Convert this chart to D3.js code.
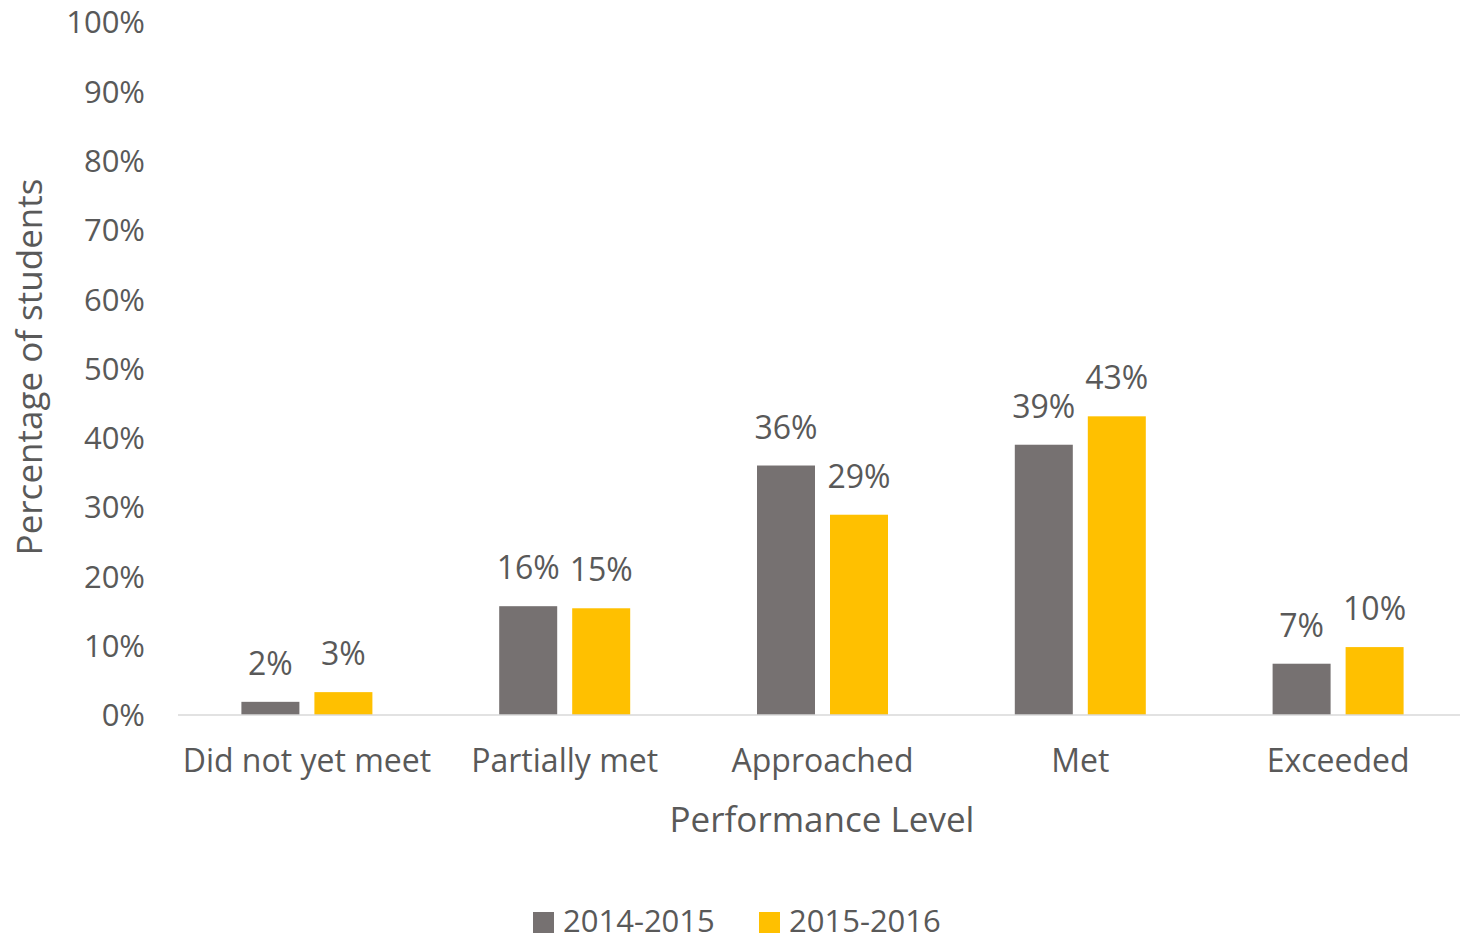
<!DOCTYPE html>
<html lang="en">
<head>
<meta charset="UTF-8">
<script src="https://cdnjs.cloudflare.com/ajax/libs/d3/7.8.5/d3.min.js"></script>
<style>
  body { margin: 0; background: #fff; }
  svg text { font-family: "Open Sans", Lato, sans-serif; fill: #595959; }
</style>
</head>
<body>
<div id="chart"></div>
<script>
  const categories = ['Did not yet meet', 'Partially met', 'Approached', 'Met', 'Exceeded'];
  const seriesNames = ['2014-2015', '2015-2016'];
  const values2014 = [0.019, 0.157, 0.360, 0.390, 0.074];
  const values2015 = [0.033, 0.154, 0.289, 0.431, 0.098];
  const yTicks = [0, 0.1, 0.2, 0.3, 0.4, 0.5, 0.6, 0.7, 0.8, 0.9, 1];
  const colors = ['#767171', '#FFC000'];

  const width = 1460, height = 942;
  const rows = categories.map((c, i) => ({ cat: c, vals: [values2014[i], values2015[i]] }));

  const svg = d3.select('#chart').append('svg')
    .attr('width', width)
    .attr('height', height);

  const x0 = d3.scaleBand().domain(categories).range([178, 1467]);
  const x1 = d3.scaleBand().domain(seriesNames)
    .range([x0.bandwidth() / 2 - 65.5, x0.bandwidth() / 2 + 65.5])
    .paddingInner(15 / 73);
  const y = d3.scaleLinear().domain([0, 1]).range([715, 22]);

  // y axis labels
  const yAxis = d3.axisLeft(y).tickValues(yTicks).tickFormat(d3.format('.0%')).tickSize(0).tickPadding(0);
  const gy = svg.append('g').attr('transform', 'translate(145,0)').call(yAxis);
  gy.select('.domain').remove();
  gy.selectAll('text').style('font-size', '31px').attr('fill', '#595959').attr('dy', '0.35em');

  // bars
  const groups = svg.selectAll('g.grp')
    .data(rows)
    .enter()
    .append('g')
    .attr('class', 'grp')
    .attr('transform', d => `translate(${x0(d.cat)},0)`);

  groups.selectAll('rect')
    .data(d => d.vals.map((v, i) => ({ s: seriesNames[i], v: v, i: i })))
    .enter()
    .append('rect')
    .attr('x', d => x1(d.s))
    .attr('width', x1.bandwidth())
    .attr('y', d => y(d.v))
    .attr('height', d => y(0) - y(d.v))
    .style('fill', d => colors[d.i]);

  groups.selectAll('text.lbl')
    .data(d => d.vals.map((v, i) => ({ s: seriesNames[i], v: v })))
    .enter()
    .append('text')
    .attr('class', 'lbl')
    .attr('x', d => x1(d.s) + x1.bandwidth() / 2)
    .attr('y', d => y(d.v) - 27)
    .attr('text-anchor', 'middle')
    .style('font-size', '32px')
    .text(d => d3.format('.0%')(d.v));

  // x axis
  const xAxis = d3.axisBottom(x0).tickSize(0).tickPadding(0);
  const gx = svg.append('g').attr('transform', `translate(0,${y(0)})`).call(xAxis);
  gx.select('.domain').attr('stroke', '#d9d9d9').attr('stroke-width', 1.5).attr('d', 'M178,0H1460');
  gx.selectAll('text').style('font-size', '32px').attr('fill', '#595959').attr('y', 57).attr('dy', 0);

  // axis titles
  svg.append('text')
    .attr('x', 822).attr('y', 832)
    .attr('text-anchor', 'middle')
    .style('font-size', '35px')
    .text('Performance Level');

  svg.append('text')
    .attr('transform', 'translate(42,367) rotate(-90)')
    .attr('text-anchor', 'middle')
    .style('font-size', '35px')
    .text('Percentage of students');

  // legend
  const legend = svg.append('g').attr('transform', 'translate(533,912)');
  const items = legend.selectAll('g')
    .data(seriesNames)
    .enter()
    .append('g')
    .attr('transform', (d, i) => `translate(${i * 226},0)`);
  items.append('rect')
    .attr('width', 21).attr('height', 21)
    .style('fill', (d, i) => colors[i]);
  items.append('text')
    .attr('x', 30).attr('y', 20)
    .style('font-size', '31px')
    .text(d => d);
</script>
</body>
</html>
